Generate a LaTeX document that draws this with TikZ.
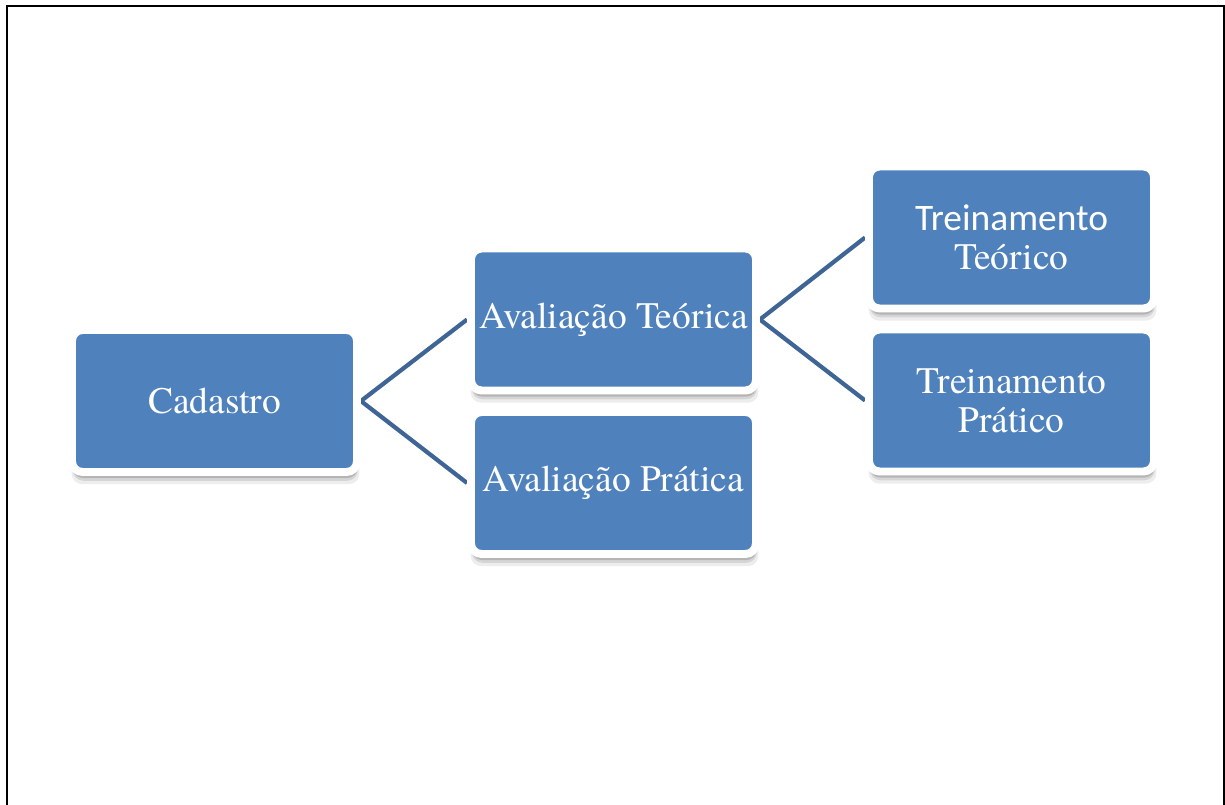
\documentclass[tikz,border=0pt]{standalone}
\usepackage{fontspec}
\newfontfamily\serifa{texgyretermes-regular.otf}
\newfontfamily\calibri{Carlito}
\usetikzlibrary{shadows}
\pgfdeclarelayer{background}
\pgfsetlayers{background,main}
\definecolor{azul}{HTML}{4F81BD}
\definecolor{linha}{HTML}{3F6496}
\tikzstyle{etapa}=[rectangle,rounded corners=6pt,fill=azul,draw=white,line width=4.5pt,
  minimum width=5.7cm,minimum height=2.84cm,inner sep=0pt,text=white,align=center,
  font=\serifa\fontsize{21.3}{22}\selectfont,
  general shadow={fill=black,opacity=0.07,shadow xshift=0.6pt,shadow yshift=-6.5pt,shadow scale=1.01},
  general shadow={fill=black,opacity=0.10,shadow xshift=0.5pt,shadow yshift=-5pt},
  general shadow={fill=black,opacity=0.15,shadow xshift=0.4pt,shadow yshift=-3.5pt}]
\tikzstyle{ligacao} = [draw,line width=2.4pt,-,linha]
\tikzstyle{moldura} = [draw,line width=1.7pt,black]

\begin{document}
\begin{tikzpicture}[x=0.02cm, y=-0.02cm]
    \useasboundingbox (0,0) rectangle (1225,805);
    \path[moldura] (7,805) -- (7,6) -- (1224,6) -- (1224,805);
	\foreach \pos/\name/\texto in {{(214.5,401)/cadastro/Cadastro}, {(613.5,319.5)/avteo/Avaliação Teórica},
                            {(613.5,483)/avpra/Avaliação Prática}, {(1011.5,237.5)/trteo/{\calibri Treinamento}\\Teórico},
                            {(1011.5,400.5)/trpra/Treinamento\\Prático}}
        \node[etapa] (\name) at \pos {\texto};

	\begin{pgfonlayer}{background}
        \foreach \source/ \dest in {cadastro/avteo, cadastro/avpra, avteo/trteo, avteo/trpra}
            \path[ligacao] (\source.east) -- (\dest.west);
    \end{pgfonlayer}
\end{tikzpicture}
\end{document}
